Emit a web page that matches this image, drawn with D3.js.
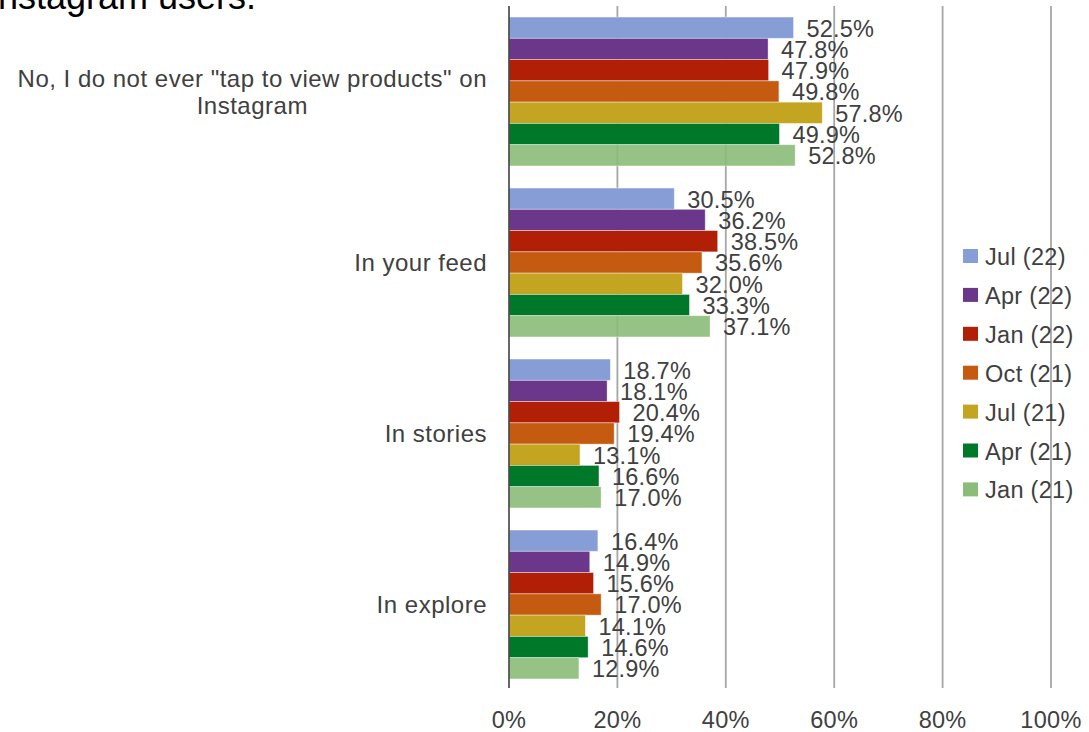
<!DOCTYPE html>
<html>
<head>
<meta charset="utf-8">
<script src="https://cdn.jsdelivr.net/npm/d3@7"></script>
<style>
  html, body { margin: 0; padding: 0; background: #fff; }
  svg { display: block; font-family: "Liberation Sans", Arial, sans-serif; }
</style>
</head>
<body>
<svg id="chart" width="1089" height="732"></svg>
<script>
// ---- data ----
const categories = [
  ["No, I do not ever \"tap to view products\" on", "Instagram"],
  ["In your feed"],
  ["In stories"],
  ["In explore"]
];
const seriesNames = ["Jul (22)", "Apr (22)", "Jan (22)", "Oct (21)", "Jul (21)", "Apr (21)", "Jan (21)"];
const seriesColors = ["#869ed5", "#6a378a", "#b01f06", "#c55b11", "#c4a522", "#00782a", "#8bbd78"];
const valuesJul22 = [52.5, 30.5, 18.7, 16.4];
const valuesApr22 = [47.8, 36.2, 18.1, 14.9];
const valuesJan22 = [47.9, 38.5, 20.4, 15.6];
const valuesOct21 = [49.8, 35.6, 19.4, 17.0];
const valuesJul21 = [57.8, 32.0, 13.1, 14.1];
const valuesApr21 = [49.9, 33.3, 16.6, 14.6];
const valuesJan21 = [52.8, 37.1, 17.0, 12.9];
const seriesValues = [valuesJul22, valuesApr22, valuesJan22, valuesOct21, valuesJul21, valuesApr21, valuesJan21];
const xTicks = [0, 20, 40, 60, 80, 100];
const titleText = "Instagram users.";

// ---- layout ----
const svg = d3.select("#chart");
const plotLeft = 509, plotRight = 1051, plotTop = 6, plotBottom = 690;
const textColor = "#404040";

const x = d3.scaleLinear().domain([0, 100]).range([plotLeft, plotRight]);
const y0 = d3.scaleBand().domain(d3.range(categories.length))
  .range([plotTop, plotBottom]).paddingInner(0.129).paddingOuter(0.0645);
const y1 = d3.scaleBand().domain(d3.range(seriesNames.length))
  .range([0, y0.bandwidth()]);

// title (cut off at the top)
svg.append("text")
  .attr("x", 256).attr("y", 9)
  .attr("text-anchor", "end")
  .attr("font-size", 36)
  .attr("fill", "#000")
  .text(titleText);

// gridlines
svg.append("g").selectAll("line")
  .data(xTicks.filter(d => d > 0))
  .join("line")
  .attr("x1", d => x(d)).attr("x2", d => x(d))
  .attr("y1", plotTop).attr("y2", plotBottom - 2)
  .attr("stroke", "#a6a6a6").attr("stroke-width", 1.8);

// bars
const groups = svg.append("g").selectAll("g")
  .data(categories.map((c, i) => i))
  .join("g")
  .attr("transform", i => `translate(0,${y0(i)})`);

groups.selectAll("rect")
  .data(i => seriesValues.map((vals, s) => ({ s, v: vals[i] })))
  .join("rect")
  .attr("x", x(0))
  .attr("y", d => y1(d.s))
  .attr("width", d => x(d.v) - x(0))
  .attr("height", y1.bandwidth())
  .attr("fill", d => seriesColors[d.s])
  .attr("fill-opacity", d => d.s === 6 ? 0.9 : 1)
  .attr("stroke", "#ffffff").attr("stroke-opacity", 0.5).attr("stroke-width", 0.8);

// value labels
groups.selectAll("text")
  .data(i => seriesValues.map((vals, s) => ({ s, v: vals[i] })))
  .join("text")
  .attr("x", d => x(d.v) + 13)
  .attr("y", d => y1(d.s) + y1.bandwidth() / 2 + 1)
  .attr("dominant-baseline", "central")
  .attr("font-size", 23.5)
  .attr("letter-spacing", 0.2)
  .attr("fill", textColor)
  .text(d => d.v.toFixed(1) + "%");

// axis line
svg.append("line")
  .attr("x1", plotLeft).attr("x2", plotLeft)
  .attr("y1", plotTop).attr("y2", plotBottom - 2)
  .attr("stroke", "#404040").attr("stroke-width", 1.6);

// category labels
const catG = svg.append("g").selectAll("g")
  .data(categories)
  .join("g");
catG.each(function(lines, i) {
  const g = d3.select(this);
  const lh = 27;
  const cy = y0(i) + y0.bandwidth() / 2;
  const t = g.selectAll("text").data(lines).join("text")
    .attr("x", 0)
    .attr("y", (d, k) => cy + (k - (lines.length - 1) / 2) * lh)
    .attr("dominant-baseline", "central")
    .attr("text-anchor", "middle")
    .attr("font-size", 24)
    .attr("letter-spacing", 0.5)
    .attr("fill", textColor)
    .text(d => d);
  const maxW = d3.max(t.nodes(), n => n.getComputedTextLength());
  g.attr("transform", `translate(${487 - maxW / 2},0)`);
});

// x tick labels
svg.append("g").selectAll("text")
  .data(xTicks)
  .join("text")
  .attr("x", d => x(d))
  .attr("y", 720)
  .attr("dominant-baseline", "central")
  .attr("text-anchor", "middle")
  .attr("font-size", 23.5)
  .attr("letter-spacing", 0.3)
  .attr("fill", textColor)
  .text(d => d + "%");

// legend
const legend = svg.append("g").selectAll("g")
  .data(seriesNames)
  .join("g")
  .attr("transform", (d, i) => `translate(963,${256 + i * 38.9})`);
legend.append("rect")
  .attr("x", 0).attr("y", -7)
  .attr("width", 15).attr("height", 14)
  .attr("fill", (d, i) => seriesColors[i]);
legend.append("text")
  .attr("x", 22).attr("y", 1)
  .attr("dominant-baseline", "central")
  .attr("font-size", 23.5)
  .attr("letter-spacing", 0.3)
  .attr("fill", textColor)
  .text(d => d);
</script>
</body>
</html>
